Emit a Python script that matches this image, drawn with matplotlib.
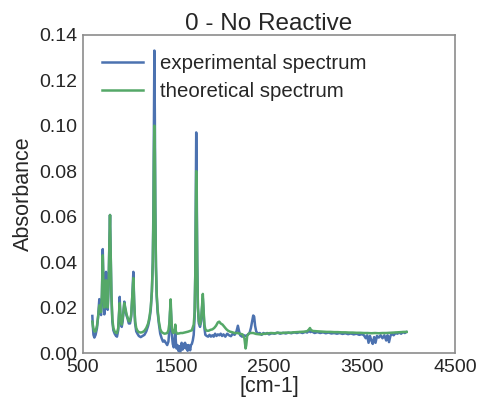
import numpy as np
import matplotlib
matplotlib.use('Agg')
import matplotlib.pyplot as plt

# experimental spectrum (wavenumber, absorbance)
wn_exp = [600, 605, 612, 622, 635, 650, 662, 675, 685, 694, 703, 712, 720, 729, 738, 747, 756, 765,
          775, 783, 790, 797, 805, 815, 826, 840, 855, 865, 878, 888, 894, 900, 908, 916, 926, 936,
          944, 952, 959, 968, 980, 992, 1005, 1018, 1030, 1041, 1050, 1060, 1072, 1085, 1100, 1120,
          1140, 1160, 1180, 1200, 1215, 1228, 1240, 1250, 1257, 1262, 1267, 1272, 1277, 1284, 1292,
          1302, 1315, 1330, 1345, 1360, 1375, 1390, 1405, 1418, 1428, 1436, 1442, 1448, 1455, 1465,
          1475, 1485, 1492, 1498, 1505, 1515, 1525, 1535, 1543, 1550, 1560, 1570, 1580, 1590, 1597,
          1605, 1615, 1625, 1635, 1645, 1652, 1660, 1670, 1680, 1690, 1700, 1707, 1712, 1717, 1722,
          1728, 1735, 1745, 1758, 1770, 1780, 1788, 1796, 1805, 1815, 1830, 1845, 1860, 1875, 1890,
          1905, 1920, 1935, 1950, 1965, 1980, 1995, 2010, 2030, 2050, 2070, 2090, 2110, 2130, 2150,
          2165, 2178, 2190, 2210, 2230, 2250, 2270, 2290, 2305, 2318, 2330, 2340, 2350, 2362, 2380,
          2400, 2420, 2440, 2460, 2480, 2500, 2530, 2560, 2590, 2620, 2650, 2680, 2710, 2740, 2770,
          2800, 2830, 2860, 2890, 2910, 2930, 2945, 2960, 2990, 3020, 3050, 3080, 3110, 3140, 3170,
          3200, 3230, 3260, 3290, 3320, 3350, 3380, 3410, 3440, 3470, 3500, 3520, 3540, 3555, 3570,
          3585, 3600, 3615, 3630, 3645, 3660, 3680, 3700, 3720, 3740, 3760, 3775, 3790, 3805, 3820,
          3840, 3860, 3880, 3900, 3920, 3940, 3960, 3975]
abs_exp = [0.0163, 0.012, 0.008, 0.0068, 0.008, 0.011, 0.016, 0.0237, 0.018, 0.0167, 0.025, 0.0457,
           0.028, 0.017, 0.025, 0.0357, 0.024, 0.019, 0.030, 0.048, 0.0607, 0.045, 0.025, 0.014,
           0.010, 0.0085, 0.0075, 0.0072, 0.010, 0.018, 0.0247, 0.018, 0.013, 0.0115, 0.014, 0.019,
           0.0226, 0.020, 0.018, 0.0165, 0.015, 0.013, 0.013, 0.016, 0.025, 0.0357, 0.022, 0.013,
           0.0095, 0.0085, 0.0075, 0.007, 0.0075, 0.008, 0.0095, 0.012, 0.015, 0.019, 0.027, 0.040,
           0.065, 0.100, 0.133, 0.105, 0.065, 0.038, 0.025, 0.018, 0.013, 0.0085, 0.0065, 0.005,
           0.0055, 0.0045, 0.0035, 0.005, 0.010, 0.018, 0.021, 0.016, 0.008, 0.004, 0.0025, 0.006,
           0.010, 0.005, 0.002, 0.0035, 0.001, 0.003, 0.0, 0.002, 0.0045, 0.0015, 0.004, 0.0025,
           0.0045, 0.002, 0.0035, 0.001, 0.0035, 0.002, 0.0012, 0.0035, 0.004, 0.0055, 0.008, 0.016,
           0.035, 0.070, 0.097, 0.075, 0.040, 0.020, 0.013, 0.0115, 0.014, 0.020, 0.024, 0.018,
           0.011, 0.008, 0.0075, 0.0072, 0.008, 0.0072, 0.0078, 0.0072, 0.0085, 0.0075, 0.0082,
           0.0078, 0.0085, 0.0075, 0.0082, 0.0072, 0.0085, 0.0078, 0.0074, 0.0085, 0.008, 0.0095,
           0.012, 0.0095, 0.0078, 0.0072, 0.0078, 0.0075, 0.008, 0.0088, 0.011, 0.014, 0.0165, 0.016,
           0.012, 0.0095, 0.0085, 0.0088, 0.008, 0.0088, 0.0084, 0.0088, 0.0082, 0.0087, 0.0085,
           0.009, 0.0085, 0.0089, 0.0086, 0.009, 0.0087, 0.0091, 0.0088, 0.0092, 0.0088, 0.0093,
           0.009, 0.0098, 0.0092, 0.0095, 0.0088, 0.0092, 0.0088, 0.0091, 0.0087, 0.009, 0.0086,
           0.0088, 0.0085, 0.0088, 0.0084, 0.0087, 0.0083, 0.0086, 0.0082, 0.0085, 0.008, 0.0083,
           0.0078, 0.0065, 0.0078, 0.0045, 0.0075, 0.0055, 0.004, 0.007, 0.0045, 0.0075, 0.0068,
           0.0078, 0.0065, 0.0078, 0.0055, 0.0078, 0.0048, 0.0075, 0.0085, 0.0078, 0.0088, 0.0085,
           0.009, 0.0085, 0.0092, 0.0088, 0.0092]

# theoretical spectrum
wn_th = [600, 610, 622, 635, 650, 662, 675, 685, 694, 703, 712, 720, 729, 738, 747, 756, 765, 775,
         783, 790, 797, 805, 815, 826, 840, 855, 865, 878, 888, 894, 900, 908, 916, 926, 936, 944,
         952, 959, 968, 980, 992, 1005, 1018, 1030, 1041, 1050, 1060, 1072, 1085, 1100, 1120, 1140,
         1160, 1180, 1200, 1215, 1228, 1240, 1250, 1257, 1262, 1267, 1272, 1277, 1284, 1292, 1302,
         1315, 1330, 1345, 1360, 1375, 1390, 1405, 1418, 1428, 1436, 1442, 1448, 1455, 1465, 1475,
         1485, 1492, 1498, 1510, 1530, 1550, 1570, 1590, 1610, 1630, 1650, 1670, 1690, 1700, 1707,
         1712, 1717, 1722, 1728, 1735, 1745, 1758, 1770, 1780, 1788, 1796, 1805, 1815, 1830, 1850,
         1870, 1890, 1910, 1930, 1950, 1965, 1980, 2000, 2020, 2040, 2060, 2080, 2100, 2130, 2160,
         2190, 2215, 2235, 2248, 2255, 2265, 2280, 2300, 2330, 2360, 2400, 2440, 2480, 2520, 2560,
         2600, 2640, 2680, 2720, 2760, 2800, 2840, 2880, 2910, 2930, 2940, 2950, 2970, 3000, 3040,
         3080, 3120, 3160, 3200, 3240, 3280, 3320, 3360, 3400, 3440, 3480, 3520, 3560, 3600, 3640,
         3680, 3720, 3760, 3800, 3840, 3880, 3920, 3960, 3980]
abs_th = [0.0138, 0.011, 0.0095, 0.0095, 0.012, 0.016, 0.021, 0.018, 0.018, 0.026, 0.043, 0.029,
          0.020, 0.025, 0.032, 0.024, 0.020, 0.030, 0.048, 0.0607, 0.045, 0.026, 0.015, 0.011,
          0.0095, 0.0088, 0.0088, 0.011, 0.018, 0.022, 0.018, 0.014, 0.0125, 0.015, 0.019, 0.022,
          0.020, 0.019, 0.017, 0.0155, 0.014, 0.014, 0.017, 0.025, 0.033, 0.022, 0.014, 0.011,
          0.0098, 0.0092, 0.009, 0.0092, 0.0098, 0.011, 0.013, 0.016, 0.020, 0.027, 0.040, 0.060,
          0.085, 0.100, 0.088, 0.062, 0.038, 0.026, 0.019, 0.014, 0.0105, 0.0092, 0.0088, 0.0085,
          0.0086, 0.0088, 0.010, 0.013, 0.019, 0.0236, 0.017, 0.011, 0.009, 0.0088, 0.010, 0.0125,
          0.0095, 0.0085, 0.0086, 0.0088, 0.0088, 0.009, 0.0092, 0.0094, 0.0097, 0.010, 0.0125,
          0.018, 0.035, 0.060, 0.080, 0.065, 0.038, 0.020, 0.014, 0.0125, 0.015, 0.021, 0.026,
          0.019, 0.0125, 0.0105, 0.0098, 0.0098, 0.0102, 0.0104, 0.011, 0.012, 0.0135, 0.0138,
          0.013, 0.0125, 0.0115, 0.0105, 0.0098, 0.0094, 0.0092, 0.0088, 0.0088, 0.0085, 0.0082,
          0.0065, 0.002, 0.0035, 0.0075, 0.0085, 0.0088, 0.0088, 0.0084, 0.0082, 0.0084, 0.0086,
          0.0088, 0.0087, 0.0089, 0.0088, 0.009, 0.0089, 0.0091, 0.0092, 0.0093, 0.0094, 0.0096,
          0.0104, 0.011, 0.0102, 0.0097, 0.0096, 0.0095, 0.0094, 0.0093, 0.0093, 0.0092, 0.0092,
          0.0091, 0.0091, 0.009, 0.009, 0.0089, 0.0089, 0.0088, 0.0088, 0.0087, 0.0088, 0.0087,
          0.0088, 0.0088, 0.0089, 0.009, 0.0091, 0.0092, 0.0093, 0.0093]

xticks = [500, 1500, 2500, 3500, 4500]
yticks = [0.00, 0.02, 0.04, 0.06, 0.08, 0.10, 0.12, 0.14]

plt.rcParams['font.family'] = ['Liberation Sans', 'DejaVu Sans']
txt = '#262626'

fig = plt.figure(figsize=(4.8, 4.03), dpi=100)
ax = fig.add_axes([0.173, 0.124, 0.775, 0.79])

ax.plot(wn_exp, abs_exp, color='#4C72B0', lw=1.8, label='experimental spectrum')
ax.plot(wn_th, abs_th, color='#55A868', lw=1.8, label='theoretical spectrum')

ax.set_xlim(500, 4500)
ax.set_ylim(0, 0.14)
ax.set_xticks(xticks)
ax.set_yticks(yticks)
ax.set_yticklabels(['%.2f' % v for v in yticks])
ax.tick_params(axis='both', length=0, labelsize=14, labelcolor=txt, pad=4)
for s in ax.spines.values():
    s.set_color('#8c8c8c')
    s.set_linewidth(1.2)

ax.set_title('0 - No Reactive', fontsize=17.5, color=txt, pad=3)
ax.set_xlabel('[cm-1]', fontsize=15.5, color=txt, labelpad=0)
ax.set_ylabel('Absorbance', fontsize=15.5, color=txt, labelpad=4)

ax.legend(loc='upper left', frameon=False, fontsize=14.7, handlelength=2.0,
          labelcolor=txt, borderaxespad=0.55, handletextpad=0.8, labelspacing=0.45)

fig.savefig('out.png', dpi=100)
